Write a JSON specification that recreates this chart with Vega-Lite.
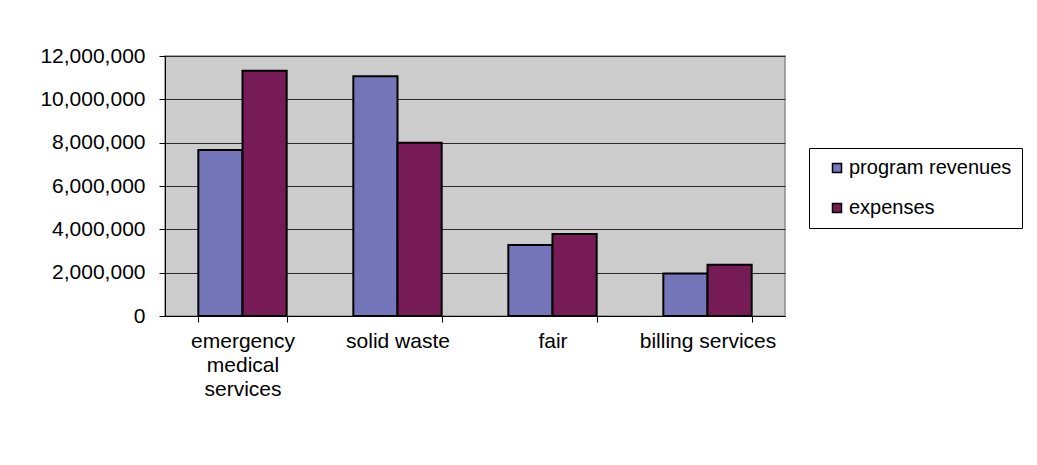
{
  "$schema": "https://vega.github.io/schema/vega-lite/v6.json",
  "width": 620,
  "height": 260,
  "autosize": {"type": "none"},
  "padding": {"left": 165, "top": 56, "right": 252, "bottom": 149},
  "background": "white",
  "config": {
    "font": "Liberation Sans",
    "view": {"fill": "#CCCCCC", "stroke": "#8C8C8C", "strokeWidth": 1.5}
  },
  "data": {
    "values": [
      {"category": "emergency medical services", "series": "program revenues", "value": 7660000},
      {"category": "emergency medical services", "series": "expenses", "value": 11320000},
      {"category": "solid waste", "series": "program revenues", "value": 11070000},
      {"category": "solid waste", "series": "expenses", "value": 8000000},
      {"category": "fair", "series": "program revenues", "value": 3280000},
      {"category": "fair", "series": "expenses", "value": 3790000},
      {"category": "billing services", "series": "program revenues", "value": 1960000},
      {"category": "billing services", "series": "expenses", "value": 2360000}
    ]
  },
  "mark": {"type": "bar", "stroke": "black", "strokeWidth": 2},
  "encoding": {
    "x": {
      "field": "category",
      "type": "nominal",
      "sort": ["emergency medical services", "solid waste", "fair", "billing services"],
      "scale": {"paddingInner": 0.43, "paddingOuter": 0.215},
      "axis": {
        "title": null,
        "labelAngle": 0,
        "labelFontSize": 21,
        "labelColor": "black",
        "labelLineHeight": 24,
        "labelPadding": 8,
        "labelBaseline": "top",
        "labelLimit": 300,
        "tickBand": "extent",
        "tickSize": 6,
        "tickColor": "black",
        "domainColor": "black",
        "grid": false,
        "labelExpr": "datum.label == 'emergency medical services' ? ['emergency', 'medical', 'services'] : datum.label"
      }
    },
    "xOffset": {"field": "series", "sort": ["program revenues", "expenses"]},
    "y": {
      "field": "value",
      "type": "quantitative",
      "scale": {"domain": [0, 12000000]},
      "axis": {
        "title": null,
        "values": [0, 2000000, 4000000, 6000000, 8000000, 10000000, 12000000],
        "format": ",d",
        "labelFontSize": 21,
        "labelColor": "black",
        "labelPadding": 14,
        "tickSize": 6,
        "tickColor": "black",
        "domainColor": "black",
        "gridColor": "#2A2A2A",
        "gridWidth": 1
      }
    },
    "color": {
      "field": "series",
      "type": "nominal",
      "sort": ["program revenues", "expenses"],
      "scale": {"range": ["#7476B9", "#771B56"]},
      "legend": {
        "title": null,
        "orient": "none",
        "legendX": 644,
        "legendY": 92,
        "symbolType": "square",
        "symbolSize": 81,
        "symbolStrokeColor": "black",
        "symbolStrokeWidth": 1.5,
        "symbolOffset": 8,
        "labelFontSize": 20,
        "labelColor": "black",
        "labelOffset": 2,
        "labelLimit": 300,
        "labelExpr": "datum.label + '\u00a0\u00a0'",
        "rowPadding": 20,
        "padding": 10,
        "strokeColor": "black",
        "fillColor": "white"
      }
    }
  }
}
